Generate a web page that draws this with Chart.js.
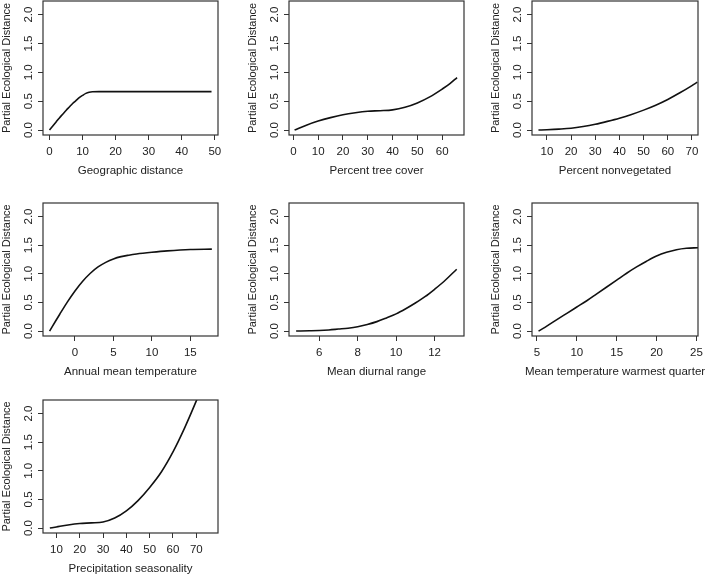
<!DOCTYPE html>
<html>
<head>
<meta charset="utf-8">
<script src="https://cdn.jsdelivr.net/npm/chart.js@4"></script>
<style>
  html, body { margin: 0; padding: 0; background: #fff; overflow: hidden; }
  #page { position: relative; width: 709px; height: 576px; overflow: hidden; }
  canvas { position: absolute; }
</style>
</head>
<body>
<div id="page"></div>
<script>
// partial ecological distance curves
const yTicks = [0, 0.5, 1, 1.5, 2];
const yLabel = 'Partial Ecological Distance';

const geoX = [0, 1, 2, 3, 4, 5, 6, 7, 8, 9, 10, 11, 12, 13, 15, 20, 30, 40, 49];
const geoY = [0, 0.07, 0.14, 0.21, 0.275, 0.34, 0.40, 0.46, 0.51, 0.56, 0.60, 0.635, 0.655, 0.663, 0.665, 0.665, 0.665, 0.665, 0.665];
const geoTicks = [0, 10, 20, 30, 40, 50];

const treeX = [0.5, 5, 10, 15, 20, 25, 30, 35, 40, 45, 50, 55, 60, 63, 66];
const treeY = [0, 0.08, 0.155, 0.215, 0.265, 0.30, 0.325, 0.335, 0.35, 0.395, 0.47, 0.575, 0.71, 0.80, 0.91];
const treeTicks = [0, 10, 20, 30, 40, 50, 60];

const nonvegX = [6.5, 10, 15, 20, 25, 30, 35, 40, 45, 50, 55, 60, 65, 70, 72.2];
const nonvegY = [0, 0.005, 0.015, 0.03, 0.06, 0.10, 0.15, 0.205, 0.27, 0.345, 0.43, 0.53, 0.645, 0.77, 0.83];
const nonvegTicks = [10, 20, 30, 40, 50, 60, 70];

const tempX = [-3.3, -2.5, -2, -1, 0, 1, 2, 3, 4, 5, 6, 7, 8, 10, 12, 15, 17.8];
const tempY = [0, 0.18, 0.29, 0.505, 0.70, 0.87, 1.01, 1.12, 1.20, 1.26, 1.30, 1.325, 1.345, 1.375, 1.40, 1.425, 1.43];
const tempTicks = [0, 5, 10, 15];

const diurnalX = [4.8, 5.5, 6, 6.5, 7, 7.5, 8, 8.5, 9, 9.5, 10, 10.5, 11, 11.5, 12, 12.5, 13.15];
const diurnalY = [0, 0.005, 0.01, 0.02, 0.035, 0.05, 0.075, 0.115, 0.165, 0.23, 0.30, 0.39, 0.49, 0.60, 0.73, 0.87, 1.08];
const diurnalTicks = [6, 8, 10, 12];

const warmX = [5.2, 6, 7.5, 8.75, 10, 11.25, 12.5, 13.75, 15, 16.25, 17.5, 18.75, 20, 21.25, 22.5, 23.75, 25.2];
const warmY = [0, 0.065, 0.2, 0.31, 0.42, 0.53, 0.65, 0.77, 0.89, 1.01, 1.12, 1.22, 1.31, 1.375, 1.42, 1.445, 1.455];
const warmTicks = [5, 10, 15, 20, 25];

const precipX = [7.2, 10, 15, 20, 25, 30, 35, 40, 45, 50, 55, 60, 65, 70, 72];
const precipY = [0, 0.02, 0.055, 0.08, 0.09, 0.105, 0.175, 0.30, 0.48, 0.71, 0.98, 1.33, 1.75, 2.22, 2.42];
const precipTicks = [10, 20, 30, 40, 50, 60, 70];

// layout: plot box edges in page pixels
const AXIS_W = 43, TICK_H = 25, TITLE_H = 20, PAD_T = 4;
const cols = [[43, 218], [289, 464], [532, 698]];
const rows = [[1, 135], [203, 336], [400, 533]];

Chart.defaults.font.family = '"Liberation Sans", Arial, sans-serif';
Chart.defaults.font.size = 11.5;
Chart.defaults.color = '#222';

const frame = {
  id: 'frame',
  afterDraw(chart) {
    const { ctx, chartArea: a } = chart;
    ctx.save();
    ctx.strokeStyle = '#333';
    ctx.lineWidth = 1.2;
    ctx.strokeRect(a.left, a.top, a.right - a.left, a.bottom - a.top);
    ctx.restore();
  },
};

function makePanel(col, row, title, xs, ys, ticks, xMin, xMax) {
  const [L, R] = cols[col];
  const [T, B] = rows[row];
  const canvas = document.createElement('canvas');
  // symmetric around the plot box so the bottom title centres on it
  canvas.width = R - L + 2 * AXIS_W;
  canvas.height = B - T + PAD_T + TICK_H + TITLE_H;
  canvas.style.left = (L - AXIS_W) + 'px';
  canvas.style.top = (T - PAD_T) + 'px';
  document.getElementById('page').appendChild(canvas);

  const tickGrid = {
    display: true,
    drawOnChartArea: false,
    drawTicks: true,
    tickLength: 5,
    color: '#333',
    lineWidth: 1,
  };

  new Chart(canvas, {
    type: 'line',
    data: {
      datasets: [{
        data: xs.map((v, i) => ({ x: v, y: ys[i] })),
        borderColor: '#111',
        borderWidth: 1.6,
        pointRadius: 0,
        fill: false,
        cubicInterpolationMode: 'monotone',
      }],
    },
    options: {
      responsive: false,
      animation: false,
      events: [],
      layout: { padding: { top: PAD_T, right: 0, left: 0, bottom: 0 } },
      plugins: {
        legend: { display: false },
        tooltip: { enabled: false },
        title: {
          display: true,
          text: title,
          position: 'bottom',
          color: '#222',
          font: { size: 11.5, weight: 'normal' },
          padding: { top: 4, bottom: 2.2 },
        },
      },
      scales: {
        x: {
          type: 'linear',
          min: xMin,
          max: xMax,
          afterBuildTicks: (s) => { s.ticks = ticks.map((v) => ({ value: v })); },
          afterFit: (s) => { s.height = TICK_H; s.paddingLeft = 0; s.paddingRight = 0; },
          grid: tickGrid,
          border: { display: false },
          ticks: { padding: 5, maxRotation: 0, autoSkip: false },
        },
        y: {
          type: 'linear',
          min: -0.086,
          max: 2.236,
          afterBuildTicks: (s) => { s.ticks = yTicks.map((v) => ({ value: v })); },
          afterFit: (s) => { s.width = AXIS_W; s.paddingTop = 0; s.paddingBottom = 0; },
          grid: tickGrid,
          border: { display: false },
          ticks: {
            padding: 1,
            minRotation: 90,
            maxRotation: 90,
            crossAlign: 'center',
            autoSkip: false,
            callback: (v) => v.toFixed(1),
          },
          title: { display: true, text: yLabel, font: { size: 11 }, padding: { top: 0, bottom: 0 } },
        },
        // empty right-hand axis, only keeps the box centred in the canvas
        yPad: {
          type: 'linear',
          position: 'right',
          display: true,
          grid: { display: false },
          border: { display: false },
          ticks: { display: false },
          afterFit: (s) => { s.width = AXIS_W; },
        },
      },
    },
    plugins: [frame],
  });
}

makePanel(0, 0, 'Geographic distance', geoX, geoY, geoTicks, -1.96, 50.96);
makePanel(1, 0, 'Percent tree cover', treeX, treeY, treeTicks, -1.75, 68.8);
makePanel(2, 0, 'Percent nonvegetated', nonvegX, nonvegY, nonvegTicks, 3.83, 72.5);
makePanel(0, 1, 'Annual mean temperature', tempX, tempY, tempTicks, -4.16, 18.6);
makePanel(1, 1, 'Mean diurnal range', diurnalX, diurnalY, diurnalTicks, 4.43, 13.53);
makePanel(2, 1, 'Mean temperature warmest quarter', warmX, warmY, warmTicks, 4.38, 25.2);
makePanel(0, 2, 'Precipitation seasonality', precipX, precipY, precipTicks, 4.26, 79.3);
</script>
</body>
</html>
